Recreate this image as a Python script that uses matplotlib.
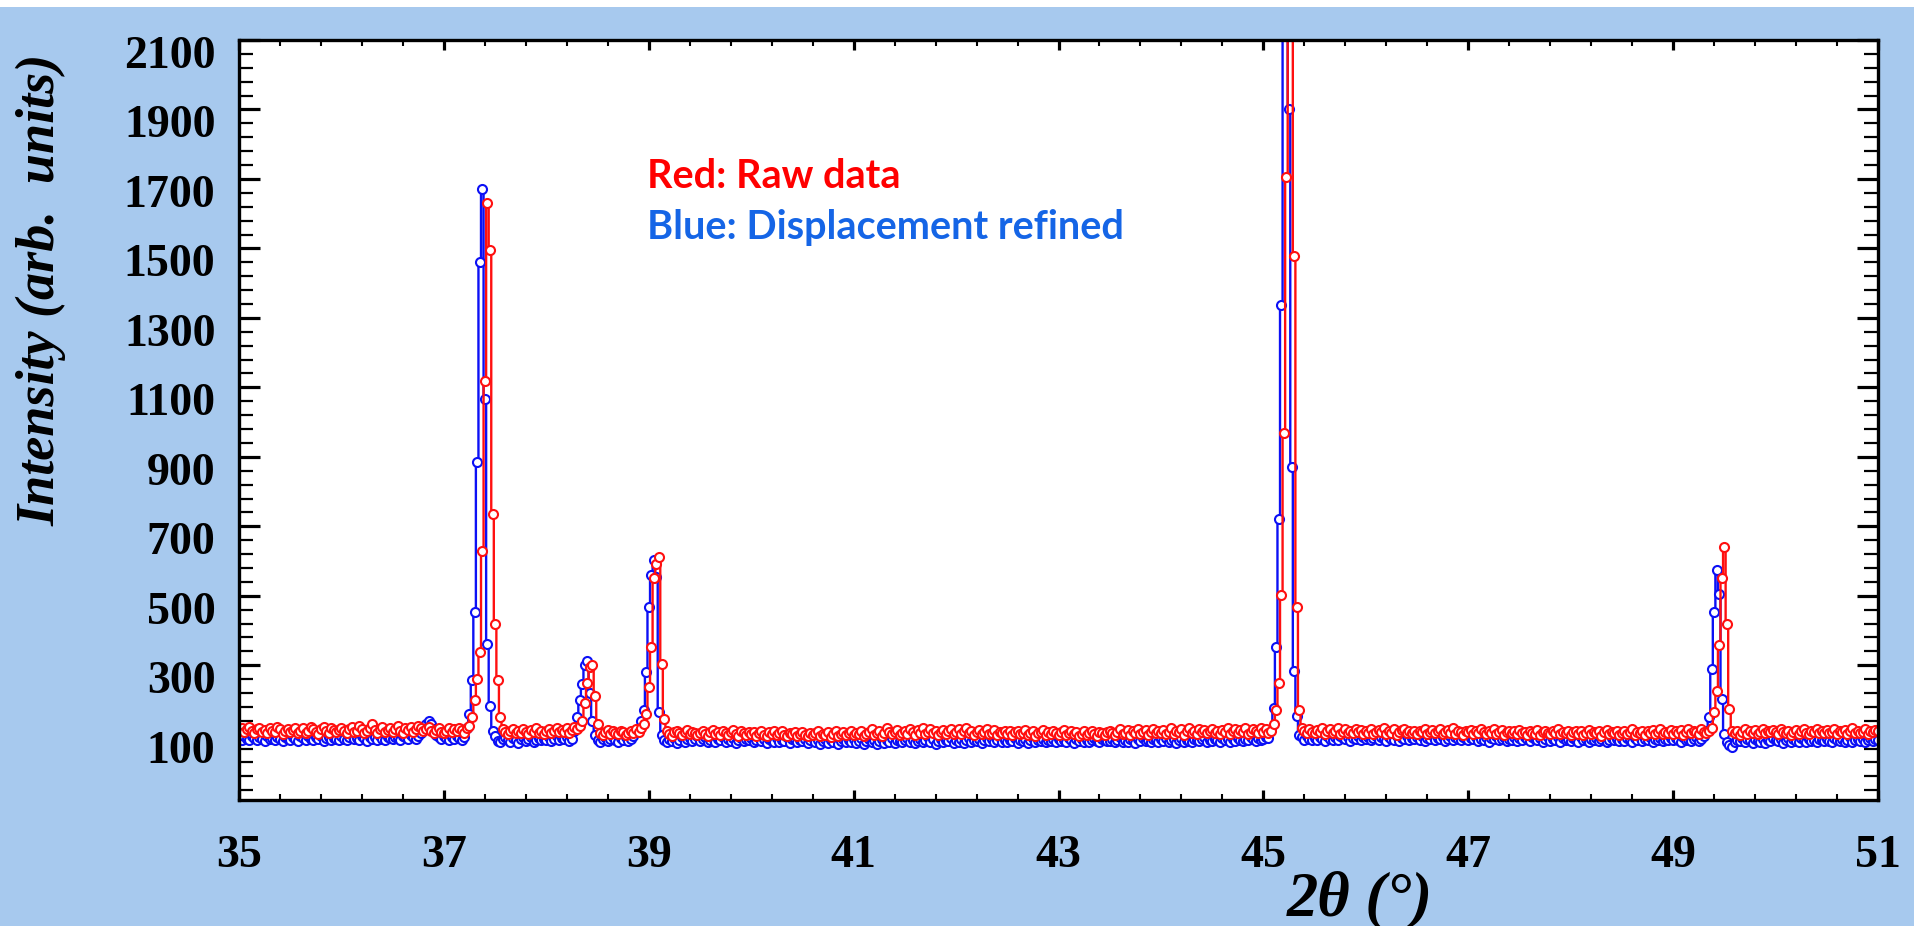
import numpy as np
import matplotlib
matplotlib.use('Agg')
import matplotlib.pyplot as plt
import matplotlib.transforms as mtransforms
from matplotlib.patches import Rectangle

####################################################################################################
# XRD scan, 2theta from 35 to 51 deg, one point every 0.025 deg (20 points per row below)

theta_start = 35.0
theta_step = 0.025

raw_intensity = [
    112, 118, 108, 115, 122, 110, 104, 116, 120, 109, 113, 105, 118, 111, 107, 121, 115, 103, 110, 117,  # 35.0
    109, 114, 120, 106, 112, 118, 104, 111, 123, 115, 108, 102, 116, 121, 110, 105, 119, 113, 107, 114,  # 35.5
    118, 110, 104, 115, 121, 108, 112, 125, 116, 106, 111, 119, 130, 114, 105, 117, 122, 109, 113, 120,  # 36.0
    107, 116, 124, 111, 105, 118, 113, 121, 108, 115, 126, 119, 112, 117, 123, 110, 106, 114, 120, 109,  # 36.5
    104, 112, 118, 107, 115, 111, 120, 113, 106, 118, 125, 150, 200, 260, 337, 628, 1118, 1631, 1494, 736,  # 37.0
    420, 257, 150, 115, 108, 102, 110, 117, 104, 112, 106, 115, 109, 101, 113, 108, 118, 105, 111, 103,  # 37.5
    110, 116, 104, 112, 119, 107, 114, 109, 118, 105, 113, 121, 116, 125, 140, 190, 250, 295, 300, 210,  # 38.0
    130, 105, 99, 108, 114, 103, 110, 106, 101, 112, 107, 98, 104, 111, 106, 115, 109, 120, 130, 160,  # 38.5
    237, 352, 550, 590, 612, 304, 145, 110, 102, 96, 108, 112, 104, 99, 107, 113, 101, 109, 104, 98,  # 39.0
    106, 111, 103, 97, 109, 114, 102, 108, 100, 112, 105, 98, 107, 113, 101, 96, 110, 104, 99, 108,  # 39.5
    102, 109, 97, 105, 111, 100, 96, 107, 103, 110, 98, 104, 112, 99, 95, 106, 101, 108, 97, 103,  # 40.0
    109, 100, 95, 104, 98, 106, 111, 97, 102, 99, 108, 94, 103, 110, 96, 101, 107, 98, 104, 112,  # 40.5
    98, 105, 101, 110, 96, 103, 108, 115, 100, 106, 112, 97, 104, 118, 109, 101, 107, 114, 99, 106,  # 41.0
    111, 103, 117, 108, 100, 113, 106, 119, 102, 109, 115, 104, 111, 98, 107, 114, 103, 110, 116, 101,  # 41.5
    108, 115, 102, 110, 118, 105, 112, 100, 107, 114, 103, 109, 117, 101, 106, 113, 99, 108, 104, 111,  # 42.0
    103, 110, 98, 107, 112, 101, 105, 114, 99, 106, 111, 97, 104, 109, 113, 100, 107, 102, 110, 105,  # 42.5
    100, 107, 113, 98, 104, 110, 101, 108, 96, 103, 111, 99, 106, 112, 102, 97, 109, 104, 100, 107,  # 43.0
    112, 104, 99, 108, 115, 101, 106, 113, 98, 110, 104, 116, 102, 108, 113, 100, 109, 117, 104, 111,  # 43.5
    106, 114, 101, 109, 118, 103, 111, 107, 115, 100, 112, 119, 105, 110, 102, 116, 108, 113, 104, 110,  # 44.0
    117, 105, 111, 103, 114, 108, 120, 102, 110, 116, 104, 113, 107, 118, 101, 109, 115, 112, 106, 119,  # 44.5
    108, 115, 104, 112, 130, 170, 248, 502, 969, 1706, 2500, 2450, 1479, 467, 170, 120, 112, 106, 115, 109,  # 45.0
    104, 113, 107, 118, 102, 110, 115, 106, 112, 120, 103, 109, 116, 105, 111, 104, 117, 108, 113, 101,  # 45.5
    110, 105, 116, 102, 109, 114, 107, 119, 103, 111, 106, 115, 100, 108, 113, 117, 104, 110, 106, 112,  # 46.0
    103, 111, 108, 115, 101, 107, 113, 104, 110, 116, 102, 109, 114, 106, 118, 103, 111, 107, 100, 112,  # 46.5
    107, 114, 102, 110, 105, 116, 108, 101, 112, 106, 115, 103, 109, 113, 100, 107, 111, 104, 110, 102,  # 47.0
    113, 104, 109, 100, 111, 106, 103, 114, 99, 108, 112, 105, 101, 110, 106, 115, 102, 109, 104, 111,  # 47.5
    100, 108, 112, 103, 110, 98, 106, 113, 101, 109, 104, 111, 97, 107, 114, 102, 108, 105, 112, 99,  # 48.0
    106, 111, 102, 109, 115, 100, 107, 104, 112, 98, 110, 105, 113, 101, 108, 116, 103, 109, 106, 114,  # 48.5
    102, 110, 106, 113, 99, 108, 115, 104, 111, 107, 102, 116, 109, 105, 112, 120, 165, 227, 357, 552,  # 49.0
    641, 418, 174, 110, 105, 112, 98, 108, 115, 103, 110, 106, 114, 101, 109, 117, 104, 111, 107, 113,  # 49.5
    108, 102, 115, 109, 104, 112, 99, 107, 114, 103, 110, 117, 105, 101, 112, 108, 115, 104, 110, 106,  # 50.0
    113, 105, 109, 116, 102, 111, 107, 114, 103, 110, 118, 106, 112, 104, 109, 115, 101, 111, 107, 113,  # 50.5
    110,  # 51.0
]

refined_intensity = [
    92, 86, 95, 88, 84, 97, 90, 85, 93, 89, 82, 96, 87, 91, 85, 94, 88, 83, 92, 89,  # 35.0
    86, 93, 88, 81, 95, 90, 84, 97, 89, 85, 92, 87, 96, 83, 90, 94, 86, 91, 88, 84,  # 35.5
    95, 89, 84, 92, 98, 87, 91, 85, 96, 90, 83, 94, 88, 92, 86, 97, 89, 84, 93, 90,  # 36.0
    87, 94, 90, 85, 96, 92, 88, 99, 93, 89, 95, 105, 118, 130, 138, 132, 115, 100, 92, 88,  # 36.5
    95, 90, 86, 93, 88, 97, 91, 85, 94, 120, 160, 257, 453, 885, 1460, 1671, 1067, 360, 184, 110,  # 37.0
    95, 82, 78, 88, 93, 84, 80, 91, 86, 77, 89, 94, 83, 87, 92, 80, 85, 90, 84, 88,  # 37.5
    86, 92, 81, 89, 95, 84, 90, 87, 93, 82, 88, 110, 150, 200, 245, 300, 312, 220, 140, 100,  # 38.0
    84, 78, 88, 92, 81, 87, 93, 85, 80, 90, 86, 94, 82, 89, 96, 108, 120, 140, 170, 280,  # 38.5
    468, 560, 602, 554, 165, 100, 85, 78, 88, 82, 90, 76, 86, 93, 80, 87, 91, 83, 89, 95,  # 39.0
    82, 88, 94, 80, 86, 91, 78, 89, 84, 92, 79, 87, 83, 90, 76, 85, 91, 81, 88, 84,  # 39.5
    90, 79, 85, 92, 81, 87, 76, 89, 83, 80, 91, 78, 86, 82, 93, 77, 88, 84, 79, 86,  # 40.0
    81, 88, 75, 84, 90, 79, 86, 73, 82, 89, 77, 85, 80, 91, 74, 83, 87, 78, 85, 80,  # 40.5
    87, 76, 83, 90, 72, 81, 88, 79, 85, 74, 82, 89, 77, 84, 80, 91, 75, 86, 82, 78,  # 41.0
    84, 90, 79, 86, 75, 83, 89, 78, 85, 92, 80, 87, 74, 82, 88, 79, 86, 81, 90, 77,  # 41.5
    85, 80, 88, 76, 84, 91, 79, 86, 82, 89, 77, 85, 90, 81, 87, 78, 84, 92, 80, 86,  # 42.0
    79, 86, 82, 90, 77, 85, 81, 88, 76, 84, 91, 80, 86, 83, 89, 78, 85, 82, 87, 80,  # 42.5
    88, 81, 86, 79, 90, 84, 77, 87, 82, 89, 80, 85, 78, 86, 91, 83, 79, 88, 84, 81,  # 43.0
    83, 89, 78, 86, 92, 80, 85, 79, 88, 84, 76, 87, 82, 90, 81, 86, 78, 89, 84, 80,  # 43.5
    87, 82, 90, 79, 85, 88, 76, 84, 91, 80, 86, 83, 78, 89, 85, 81, 87, 92, 80, 86,  # 44.0
    82, 89, 85, 79, 91, 84, 87, 80, 88, 83, 90, 86, 81, 89, 84, 92, 87, 82, 90, 85,  # 44.5
    88, 94, 90, 115, 176, 353, 721, 1338, 2500, 2500, 1900, 870, 282, 155, 100, 92, 86, 95, 89, 84,  # 45.0
    90, 85, 93, 88, 82, 95, 89, 86, 92, 84, 97, 90, 87, 94, 83, 91, 88, 96, 85, 92,  # 45.5
    87, 93, 84, 90, 96, 85, 92, 88, 81, 94, 89, 86, 97, 83, 91, 87, 95, 84, 90, 88,  # 46.0
    92, 86, 95, 83, 90, 88, 98, 85, 91, 87, 94, 82, 89, 96, 84, 92, 88, 85, 93, 89,  # 46.5
    85, 91, 88, 94, 82, 89, 86, 93, 80, 90, 87, 95, 84, 88, 92, 81, 89, 86, 94, 83,  # 47.0
    90, 84, 92, 87, 81, 93, 88, 85, 91, 79, 89, 94, 83, 88, 86, 92, 80, 90, 85, 87,  # 47.5
    83, 90, 86, 80, 92, 85, 89, 78, 88, 84, 91, 82, 87, 93, 80, 86, 90, 84, 88, 81,  # 48.0
    88, 82, 91, 85, 79, 90, 86, 92, 81, 87, 84, 93, 80, 89, 85, 91, 83, 88, 86, 90,  # 48.5
    84, 91, 86, 80, 92, 85, 89, 83, 88, 94, 81, 87, 95, 110, 150, 290, 453, 573, 506, 203,  # 49.0
    103, 80, 70, 65, 78, 86, 82, 90, 79, 87, 84, 76, 89, 83, 80, 88, 77, 85, 82, 90,  # 49.5
    86, 81, 89, 77, 84, 90, 80, 87, 83, 78, 91, 85, 79, 88, 82, 86, 80, 89, 84, 81,  # 50.0
    88, 83, 79, 90, 85, 81, 87, 78, 86, 92, 80, 84, 89, 82, 87, 79, 85, 90, 83, 88,  # 50.5
    86,  # 51.0
]

assert len(raw_intensity) == len(refined_intensity) == 641

x_ticks = [35, 37, 39, 41, 43, 45, 47, 49, 51]
y_ticks = [100, 300, 500, 700, 900, 1100, 1300, 1500, 1700, 1900, 2100]

####################################################################################################

two_theta = theta_start + theta_step * np.arange(len(raw_intensity))

background = '#A7C9EE'
serif = 'Liberation Serif'

figure = plt.figure(figsize=(19.15, 9.26), dpi=100, facecolor=background)
figure.patches.append(Rectangle((0, 1 - 7/926), 1, 7/926, transform=figure.transFigure,
                                facecolor='white', edgecolor='none', zorder=0))

ax = figure.add_axes([239/1915, 1 - 800/926, (1878 - 239)/1915, (800 - 40)/926])
ax.set_facecolor('white')

ax.plot(two_theta, refined_intensity, drawstyle='steps-mid', color='#0C10F5', lw=1.7,
        marker='o', ms=6.5, mfc='white', mec='#0C10F5', mew=1.5)
ax.plot(two_theta, raw_intensity, drawstyle='steps-mid', color='#FF1010', lw=1.7,
        marker='o', ms=6.5, mfc='white', mec='#FF1010', mew=1.5)

ax.set_xlim(35, 51)
ax.set_ylim(-88, 2100)
ax.set_xticks(x_ticks)
ax.set_xticks(np.arange(35, 51.01, 0.4), minor=True)
ax.set_yticks(y_ticks)
ax.set_yticks(np.arange(-60, 2101, 40), minor=True)

for spine in ax.spines.values():
    spine.set_linewidth(2.4)

ax.tick_params(which='both', direction='in', top=True, right=True, colors='black')
ax.tick_params(axis='y', which='major', length=15, width=2.3, pad=17)
ax.tick_params(axis='y', which='minor', length=10, width=1.6)
ax.tick_params(axis='x', which='major', length=7, width=2.3, pad=25)
ax.tick_params(axis='x', which='minor', length=4.5, width=1.5)

offset = mtransforms.ScaledTranslation(0, -12/100, figure.dpi_scale_trans)
for label in ax.get_yticklabels():
    label.set_transform(label.get_transform() + offset)
for label in ax.get_xticklabels() + ax.get_yticklabels():
    label.set_fontfamily(serif)
    label.set_fontweight('bold')
    label.set_fontsize(33)

figure.text(41/1915, 1 - 290/926, 'Intensity (arb.  units)', rotation=90, ha='center', va='center',
            fontsize=39, fontweight='bold', fontstyle='italic', family=serif)
figure.text(1360/1915, 1 - 915/926, '2θ (°)', ha='center', va='baseline',
            fontsize=45, fontweight='bold', fontstyle='italic', family=serif)

figure.text(647/1915, 1 - 188/926, 'Red: Raw data', color='#FF0000', ha='left', va='baseline',
            fontsize=28.5, fontweight='bold', family='Lato')
figure.text(647/1915, 1 - 239/926, 'Blue: Displacement refined', color='#1565E6', ha='left',
            va='baseline', fontsize=28.5, fontweight='bold', family='Lato')

figure.savefig('out.png', dpi=100, facecolor=figure.get_facecolor())
